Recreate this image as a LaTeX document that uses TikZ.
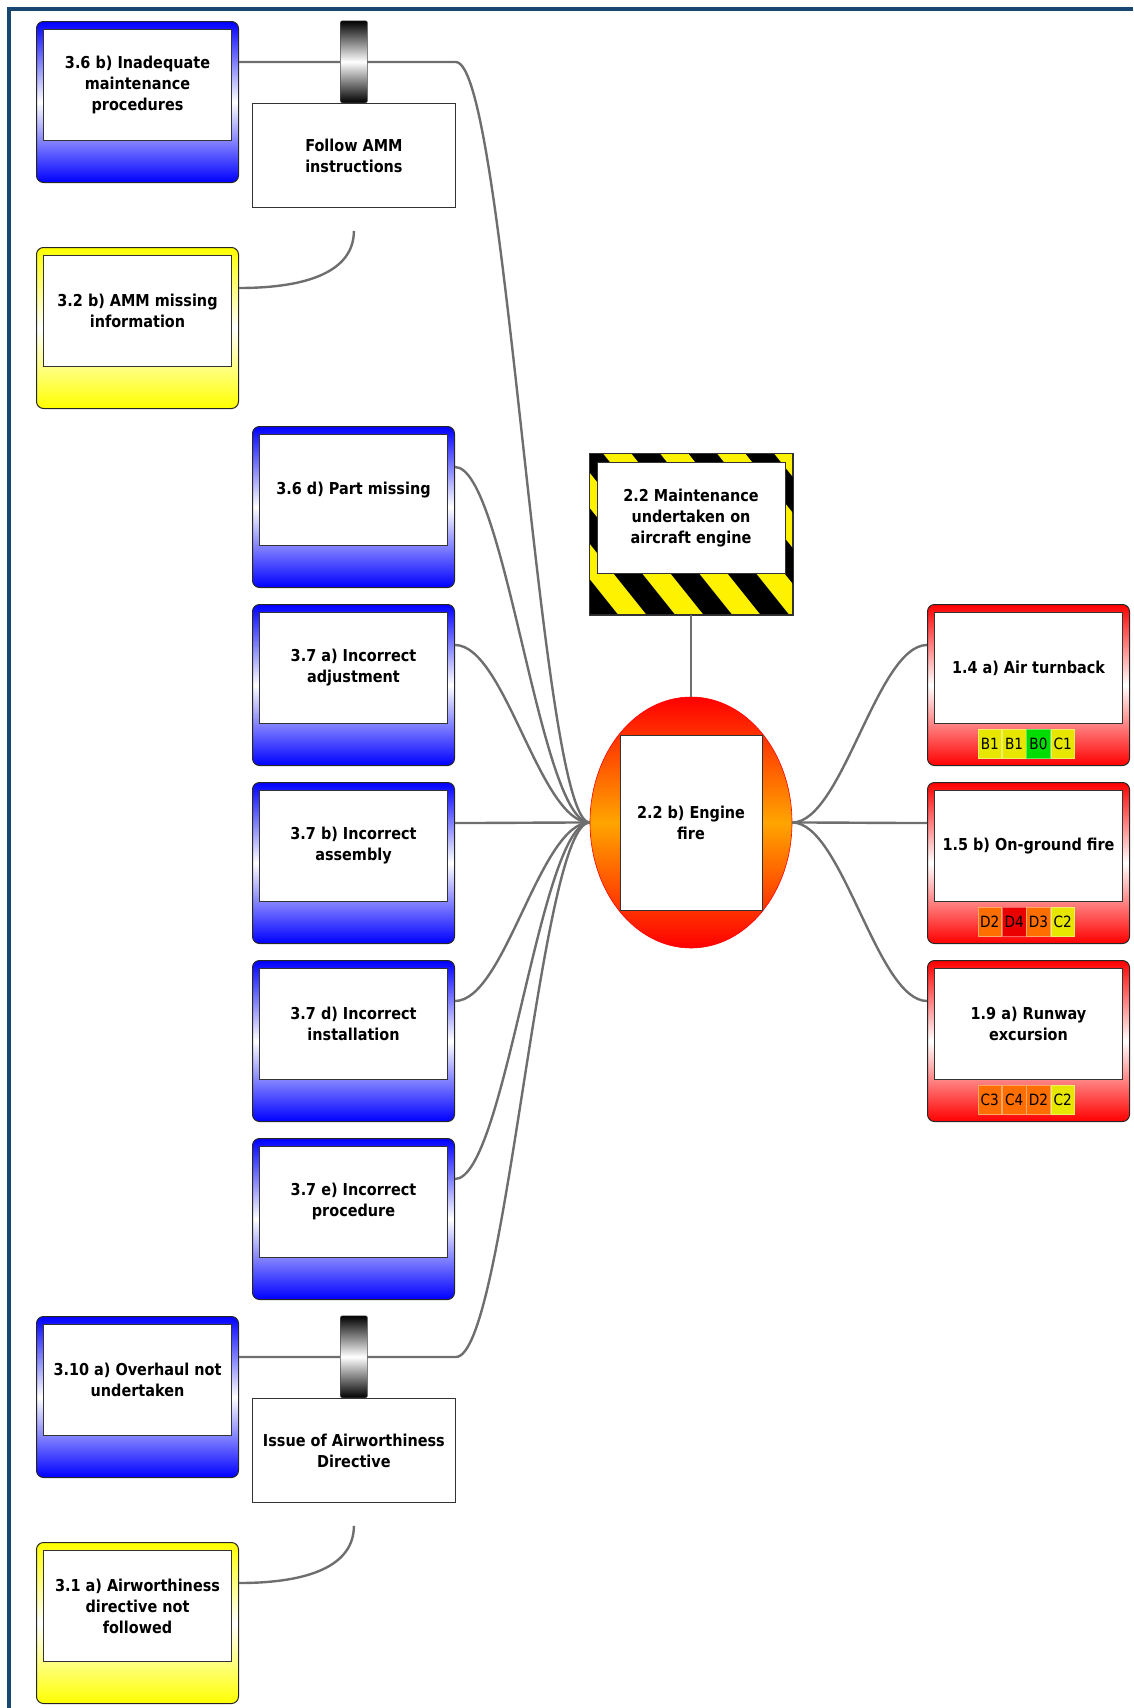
\documentclass[tikz,border=0pt]{standalone}
\usepackage{fontspec}
\newfontfamily\diagfont{DejaVu Sans}[FakeStretch=0.88]
\usetikzlibrary{calc,shapes.geometric}
\definecolor{framecol}{RGB}{24,70,112}
\definecolor{riskyel}{RGB}{230,230,0}
\definecolor{riskgr}{RGB}{0,220,0}
\definecolor{riskor}{RGB}{255,110,0}
\definecolor{riskrd}{RGB}{235,0,0}
\definecolor{firecol}{RGB}{255,165,0}
\definecolor{linkcol}{RGB}{110,110,110}
\begin{document}
\begin{tikzpicture}
		[x=1pt,y=-1pt,
		cbox/.style={draw=black!85,line width=1pt,rounded corners=7pt,minimum width=202pt,minimum height=161pt,inner sep=0pt,anchor=north west},
		bluebox/.style={cbox,top color=blue,bottom color=blue,middle color=white},
		yellowbox/.style={cbox,top color=yellow,bottom color=yellow,middle color=white},
		redbox/.style={cbox,top color=red,bottom color=red,middle color=white},
		boxtext/.style={draw=black!80,fill=white,line width=0.8pt,minimum width=188pt,minimum height=111pt,inner sep=2pt,align=center,anchor=north,font=\diagfont\bfseries\fontsize{16.4}{21}\selectfont},
		barrier/.style={draw=black!80,fill=white,line width=0.8pt,minimum width=203pt,minimum height=104pt,inner sep=2pt,anchor=north west,align=center,font=\diagfont\bfseries\fontsize{16.4}{21}\selectfont},
		gate/.style={draw=black!70,line width=0.5pt,top color=black,bottom color=black,middle color=white,minimum width=27pt,minimum height=82pt,inner sep=0pt,anchor=south,rounded corners=2pt},
		badge/.style={draw=#1!60!white,fill=#1,line width=0.5pt,minimum width=23.5pt,minimum height=29pt,inner sep=0pt,font=\diagfont\fontsize{15.5}{17}\selectfont},
		link/.style={draw=linkcol,line width=2.4pt}]
		\useasboundingbox (0,0) rectangle (1133,1708);
		\draw[framecol,line width=4pt] (9,1708) -- (9,9) -- (1133,9);
		\foreach \n/\s/\px/\py/\t in {
			c36b/bluebox/36/21/{3.6 b) Inadequate\\maintenance\\procedures},
			c32b/yellowbox/36/247/{3.2 b) AMM missing\\information},
			c36d/bluebox/252/426/{3.6 d) Part missing},
			c37a/bluebox/252/604/{3.7 a) Incorrect\\adjustment},
			c37b/bluebox/252/782/{3.7 b) Incorrect\\assembly},
			c37d/bluebox/252/960/{3.7 d) Incorrect\\installation},
			c37e/bluebox/252/1138/{3.7 e) Incorrect\\procedure},
			c310a/bluebox/36/1316/{3.10 a) Overhaul not\\undertaken},
			c31a/yellowbox/36/1542/{3.1 a) Airworthiness\\directive not\\followed},
			c14a/redbox/927/604/{1.4 a) Air turnback},
			c15b/redbox/927/782/{1.5 b) On-ground fire},
			c19a/redbox/927/960/{1.9 a) Runway\\excursion}}
		{
			\node[\s] (\n) at (\px,\py) {};
			\node[boxtext] (\n-t) at ([yshift=-8pt]\n.north) {\t};
		}
		\foreach \n/\list in {
			c14a/{B1/riskyel,B1/riskyel,B0/riskgr,C1/riskyel},
			c15b/{D2/riskor,D4/riskrd,D3/riskor,C2/riskyel},
			c19a/{C3/riskor,C4/riskor,D2/riskor,C2/riskyel}}
		{
			\foreach \r/\col [count=\k] in \list
			{
				\node[badge=\col] (\n-r\k) at ($(\n.north west)+(38.5+\k*24.3,139.5)$) {\r};
			}
		}
		\node[barrier] (amm) at (252,103) {Follow AMM\\instructions};
		\node[barrier] (ad) at (252,1398) {Issue of Airworthiness\\Directive};
		\node[draw=black!80,line width=1pt,fill=yellow,minimum width=203pt,minimum height=161pt,inner sep=0pt,anchor=north west] (haz) at (589,453) {};
		\begin{scope}
			\clip (haz.south west) rectangle (haz.north east);
			\foreach \k in {-2,...,5}
			{
				\fill (646+\k*57,614) -- ++(28.5,0) -- ++(-129,-161) -- ++(-28.5,0) -- cycle;
			}
		\end{scope}
		\draw[black!80,line width=1pt] (haz.south west) rectangle (haz.north east);
		\node[boxtext] (haz-t) at ([yshift=-9pt]haz.north) {2.2 Maintenance\\undertaken on\\aircraft engine};
		\node[ellipse,draw=red,line width=0.6pt,top color=red,bottom color=red,middle color=firecol,minimum width=202pt,minimum height=251pt,inner sep=0pt] (event) at (691,822.5) {};
		\node[boxtext,anchor=center,minimum width=142pt,minimum height=175pt] (event-t) at (event) {2.2 b) Engine\\fire};
		\draw[link] (haz.south) -- (event.north);
		\foreach \n in {c36d,c37a,c37b,c37d,c37e}
		{
			\draw[link] ($(\n.north east)+(0,41)$) .. controls +(50,0) and +(-50,0) .. (event.west);
		}
		\draw[link] ($(c36b.north east)+(0,41)$) coordinate (p1) -- (p1 -| amm.east) .. controls +(50,0) and +(-50,0) .. (event.west);
		\draw[link] ($(c310a.north east)+(0,41)$) coordinate (p2) -- (p2 -| ad.east) .. controls +(50,0) and +(-50,0) .. (event.west);
		\draw[link] ($(amm.south)+(0,23)$) .. controls +(0,40) and +(70,0) .. ($(c32b.north east)+(0,41)$);
		\draw[link] ($(ad.south)+(0,23)$) .. controls +(0,40) and +(70,0) .. ($(c31a.north east)+(0,41)$);
		\foreach \n in {c14a,c15b,c19a}
		{
			\draw[link] (event.east) .. controls +(50,0) and +(-50,0) .. ($(\n.north west)+(0,41)$);
		}
		\node[gate] (g1) at (amm.north) {};
		\node[gate] (g2) at (ad.north) {};
	\end{tikzpicture}
\end{document}
